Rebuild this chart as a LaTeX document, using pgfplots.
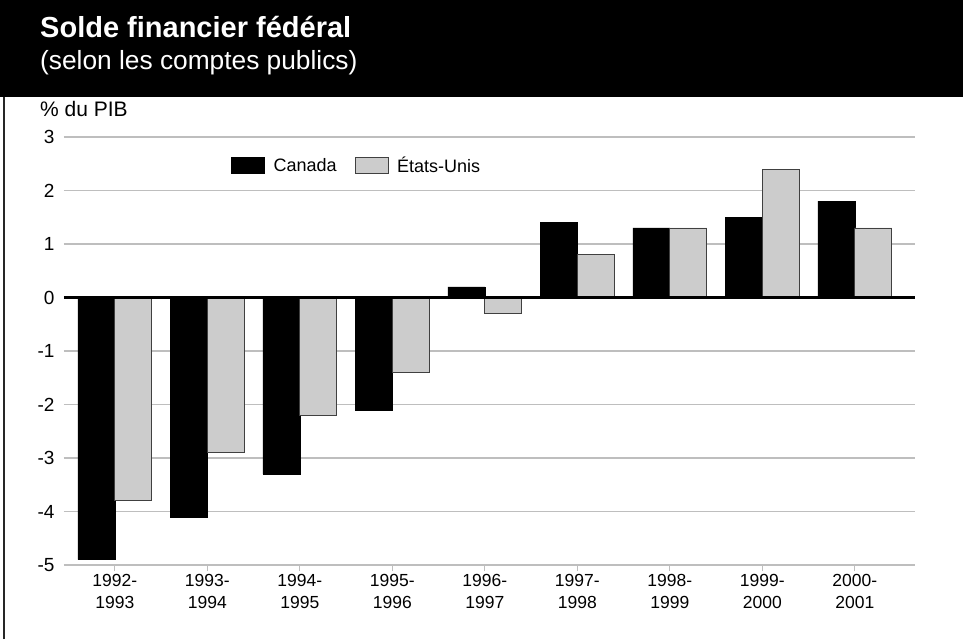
\documentclass[border=0pt]{standalone}
\usepackage{fontspec}
\setmainfont{Liberation Sans}
\usepackage{pgfplots}
\pgfplotsset{compat=1.18}
\definecolor{usgray}{RGB}{204,204,204}
\definecolor{gridgray}{RGB}{190,190,190}
\begin{document}
\begin{tikzpicture}[x=1pt,y=1pt]
% frame background (pixel coords: axis origin at (64,565))
\fill[white] (-64,-74) rectangle (899,565);
\fill[black] (-64,468) rectangle (899,565);
\draw[line width=1.5pt,black!85] (-60,-74) -- (-60,468);
\node[anchor=base west,text=white,font=\fontsize{29}{34}\selectfont\bfseries,inner sep=0pt] at (-24,527) {Solde financier fédéral};
\node[anchor=base west,text=white,font=\fontsize{26.3}{30}\selectfont,inner sep=0pt] at (-24,495) {(selon les comptes publics)};
\node[anchor=base west,font=\fontsize{21}{25}\selectfont,inner sep=0pt] at (-24,448) {\% du PIB};
\begin{axis}[
  at={(0,0)}, anchor=south west,
  scale only axis, width=851pt, height=428pt,
  xmin=-0.55, xmax=8.65, ymin=-5, ymax=3,
  axis line style={draw=none},
  ymajorgrids, grid style={gridgray, line width=1.2pt},
  ytick={-5,-4,-3,-2,-1,0,1,2,3},
  ytick style={draw=none},
  xtick={0,1,2,3,4,5,6,7,8},
  xticklabels={{1992-\\1993},{1993-\\1994},{1994-\\1995},{1995-\\1996},{1996-\\1997},{1997-\\1998},{1998-\\1999},{1999-\\2000},{2000-\\2001}},
  xticklabel style={align=center, font=\fontsize{17.5}{21.5}\selectfont},
  yticklabel style={font=\fontsize{19}{22}\selectfont},
  /pgf/number format/assume math mode=true,
  x tick style={gridgray, line width=1pt},
  major tick length=6pt,
  tick align=outside,
  xtick pos=bottom,
  ybar, bar width=37pt,
  legend style={draw=none, fill=none, at={(0.344,0.934)}, anchor=center, legend columns=2,
    font=\fontsize{18}{22}\selectfont, column sep=0pt},
  legend image code/.code={\draw[#1] (0pt,-8pt) rectangle (33pt,8pt); \path[draw=none,fill=none] (0pt,0pt) -- (40pt,0pt);},
  clip=false,
]
\addplot[fill=black, draw=black, bar shift=-18.5pt] coordinates {
(0,-4.9) (1,-4.1) (2,-3.3) (3,-2.1) (4,0.2) (5,1.4) (6,1.3) (7,1.5) (8,1.8)};
\addlegendentry{Canada\rule{16pt}{0pt}}
\addplot[fill=usgray, draw=black!75, line width=0.8pt, bar shift=18.5pt] coordinates {
(0,-3.8) (1,-2.9) (2,-2.2) (3,-1.4) (4,-0.3) (5,0.8) (6,1.3) (7,2.4) (8,1.3)};
\addlegendentry{États-Unis}
\addplot[sharp plot, black, line width=3pt, forget plot] coordinates {(-0.55,0) (8.65,0)};
\end{axis}
\end{tikzpicture}
\end{document}
